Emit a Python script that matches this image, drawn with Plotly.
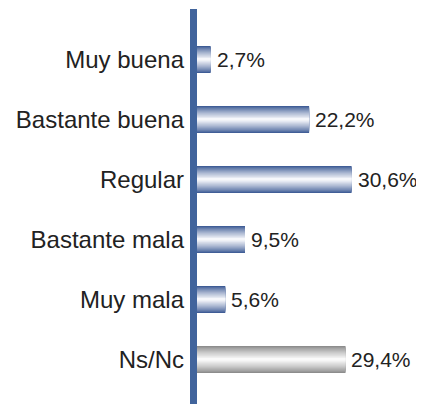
import plotly.graph_objects as go

categories = ['Muy buena', 'Bastante buena', 'Regular', 'Bastante mala', 'Muy mala', 'Ns/Nc']
values = [2.7, 22.2, 30.6, 9.5, 5.6, 29.4]
labels = ['2,7%', '22,2%', '30,6%', '9,5%', '5,6%', '29,4%']
groups = ['blue', 'blue', 'blue', 'blue', 'blue', 'grey']

# dark edge / light core of the cylinder look
edge = {'blue': (60, 90, 148), 'grey': (138, 138, 138)}
core = {'blue': (246, 247, 251), 'grey': (250, 250, 250)}

def mix(a, b, t):
    return 'rgb(%d,%d,%d)' % tuple(round(a[i] + (b[i] - a[i]) * t) for i in range(3))

fig = go.Figure()
n_layers = 16
bar_w = 0.45
for k in range(n_layers):
    t = (k / (n_layers - 1)) ** 0.8
    fig.add_trace(go.Bar(
        x=values, y=categories, orientation='h',
        width=bar_w * (1 - k / n_layers),
        marker=dict(color=[mix(edge[g], core[g], t) for g in groups], line=dict(width=0)),
        hoverinfo='skip', showlegend=False
    ))

for v, c, lab in zip(values, categories, labels):
    fig.add_annotation(x=v, y=c, text=lab, showarrow=False, xanchor='left', xshift=4,
                       font=dict(size=21, color='#222222'))

axis_blue = '#41649C'
x_px = 5.05
fig.add_shape(type='rect', xref='x', yref='paper', x0=-7 / x_px, x1=0, y0=0, y1=1,
              fillcolor=axis_blue, line=dict(width=0), layer='above')

# the page body adds 8px round the figure, so keep it inside the window
fig.update_layout(
    width=416, height=396,
    margin=dict(l=182, r=0, t=1, b=0),
    barmode='overlay',
    paper_bgcolor='white', plot_bgcolor='white',
    font=dict(family='Liberation Sans, Arial, sans-serif', color='#222222'),
)
fig.update_xaxes(range=[-7 / x_px, 227 / x_px], visible=False, showgrid=False, zeroline=False)
fig.update_yaxes(range=[5.742, -0.842], showgrid=False, zeroline=False, showline=False,
                 ticks='', ticklabelstandoff=5, tickfont=dict(size=24, color='#222222'))

fig.write_html('out.html')
